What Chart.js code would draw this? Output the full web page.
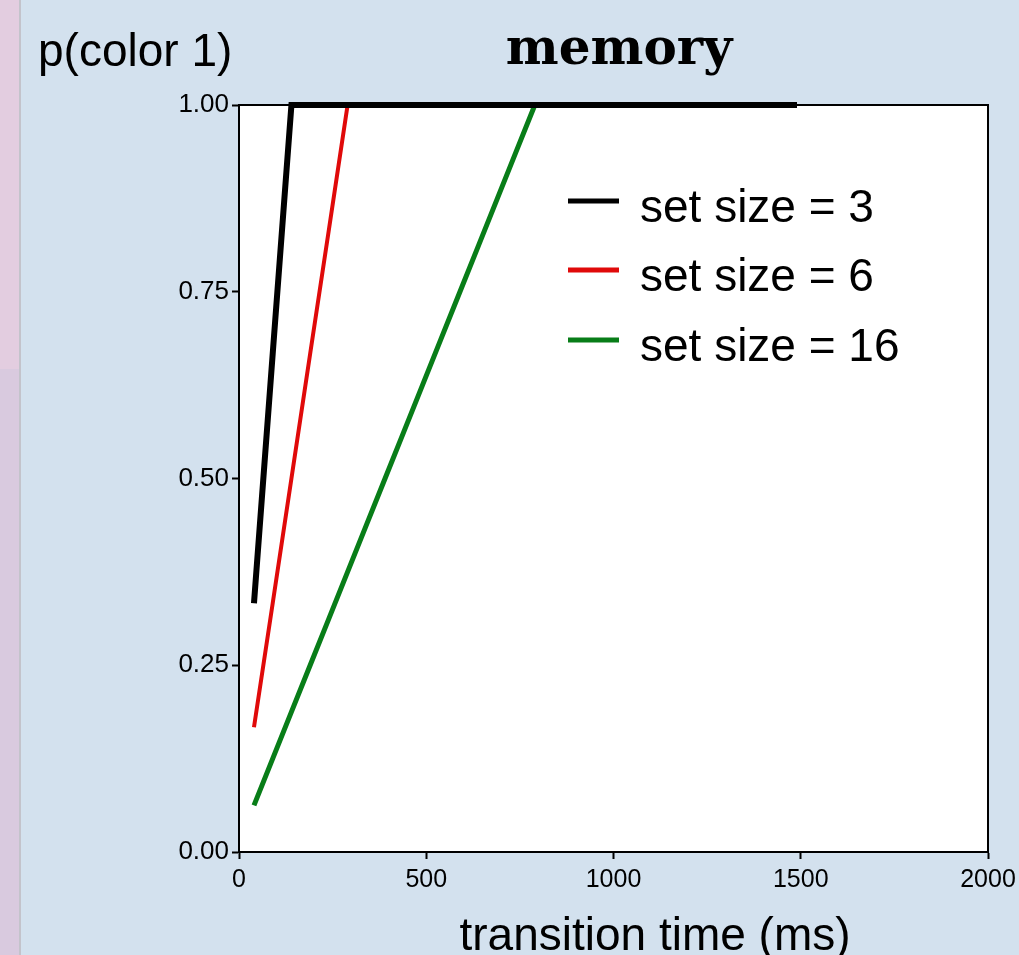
<!DOCTYPE html>
<html>
<head>
<meta charset="utf-8">
<script src="https://cdn.jsdelivr.net/npm/chart.js@4"></script>
<style>
  html, body { margin: 0; padding: 0; }
  body { width: 1019px; height: 955px; background: #d3e1ee; position: relative; overflow: hidden; }
  #strip { position: absolute; left: 0; top: 0; width: 19px; height: 955px;
    background: linear-gradient(#e3cde0 0, #e3cde0 369px, #d9cadf 369px);
    border-right: 2px solid #c3c3cb; }
  #wrap { position: absolute; left: 0; top: 0; width: 1019px; height: 955px; }
</style>
</head>
<body>
<div id="strip"></div>
<div id="wrap"><canvas id="chart" width="1019" height="955"></canvas></div>
<script>
// transition times (ms) at which p(color 1) was sampled
const times = [40, 90, 140, 190, 240, 290, 340, 390, 440, 490, 540, 590, 640, 690, 740,
  790, 840, 890, 940, 990, 1040, 1090, 1140, 1190, 1240, 1290, 1340, 1390, 1440, 1490];

const setSize3 = [0.333, 0.667, 1, 1, 1, 1, 1, 1, 1, 1, 1, 1, 1, 1, 1,
  1, 1, 1, 1, 1, 1, 1, 1, 1, 1, 1, 1, 1, 1, 1];
const setSize6 = [0.167, 0.333, 0.5, 0.667, 0.833, 1];
const setSize16 = [0.0625, 0.125, 0.1875, 0.25, 0.3125, 0.375, 0.4375, 0.5,
  0.5625, 0.625, 0.6875, 0.75, 0.8125, 0.875, 0.9375, 1];

const seriesNames = ['set size = 3', 'set size = 6', 'set size = 16'];
const xTicks = [0, 500, 1000, 1500, 2000];
const yTicks = [0, 0.25, 0.5, 0.75, 1];

const colors = ['#000000', '#e00a0a', '#087d18'];
const widths = [6, 4, 5];

function points(vals) {
  return vals.map((v, i) => ({ x: times[i], y: v }));
}

// white plot panel + box around it
const panel = {
  id: 'panel',
  beforeDraw(chart) {
    const { ctx, chartArea: a } = chart;
    ctx.save();
    ctx.fillStyle = '#fff';
    ctx.fillRect(a.left, a.top, a.right - a.left, a.bottom - a.top);
    ctx.restore();
  },
  beforeDatasetsDraw(chart) {
    const { ctx, chartArea: a } = chart;
    ctx.save();
    ctx.strokeStyle = '#000';
    ctx.lineWidth = 2;
    ctx.strokeRect(a.left, a.top, a.right - a.left, a.bottom - a.top);
    ctx.restore();
  }
};

// titles and legend drawn by hand, legend sits inside the panel
const labels = {
  id: 'labels',
  afterDraw(chart) {
    const { ctx } = chart;
    ctx.save();
    ctx.fillStyle = '#000';
    ctx.textBaseline = 'alphabetic';

    ctx.font = 'bold 50px "DejaVu Serif"';
    ctx.textAlign = 'center';
    ctx.fillText('memory', 619, 64);

    ctx.font = '46px "Liberation Sans", Arial, sans-serif';
    ctx.textAlign = 'left';
    ctx.fillText('p(color 1)', 38, 66);

    ctx.textAlign = 'center';
    ctx.fillText('transition time (ms)', 655, 950);

    ctx.textAlign = 'left';
    const rows = [201, 270, 340];
    seriesNames.forEach((name, i) => {
      ctx.strokeStyle = colors[i];
      ctx.lineWidth = 5;
      ctx.beginPath();
      ctx.moveTo(568, rows[i]);
      ctx.lineTo(619, rows[i]);
      ctx.stroke();
      ctx.fillText(name, 640, rows[i] + 21);
    });
    ctx.restore();
  }
};

new Chart(document.getElementById('chart'), {
  type: 'line',
  data: {
    datasets: [
      { label: seriesNames[0], data: points(setSize3) },
      { label: seriesNames[1], data: points(setSize6) },
      { label: seriesNames[2], data: points(setSize16) }
    ].map((d, i) => Object.assign(d, {
      borderColor: colors[i],
      borderWidth: widths[i],
      pointRadius: 0,
      fill: false,
      tension: 0,
      clip: false
    }))
  },
  options: {
    responsive: false,
    animation: false,
    events: [],
    layout: { padding: { top: 105, right: 31, bottom: 0, left: 0 } },
    plugins: { legend: { display: false }, tooltip: { enabled: false } },
    scales: {
      x: {
        type: 'linear',
        min: 0, max: 2000,
        afterBuildTicks: s => { s.ticks = xTicks.map(v => ({ value: v })); },
        afterFit: s => { s.height = 103; s.paddingLeft = 0; s.paddingRight = 0; },
        ticks: { color: '#000', font: { size: 25, family: '"Liberation Sans", Arial' }, padding: 6,
          maxRotation: 0, callback: v => String(v) },
        grid: { drawOnChartArea: false, tickLength: 7, tickColor: '#000', tickWidth: 2 },
        border: { color: '#000', width: 2 }
      },
      y: {
        min: 0, max: 1,
        afterBuildTicks: s => { s.ticks = yTicks.map(v => ({ value: v })); },
        afterFit: s => { s.width = 239; },
        ticks: { color: '#000', font: { size: 26, family: '"Liberation Sans", Arial' }, padding: 3,
          callback: v => v.toFixed(2) },
        grid: { drawOnChartArea: false, tickLength: 7, tickColor: '#000', tickWidth: 2 },
        border: { color: '#000', width: 2 }
      }
    }
  },
  plugins: [panel, labels]
});
</script>
</body>
</html>
